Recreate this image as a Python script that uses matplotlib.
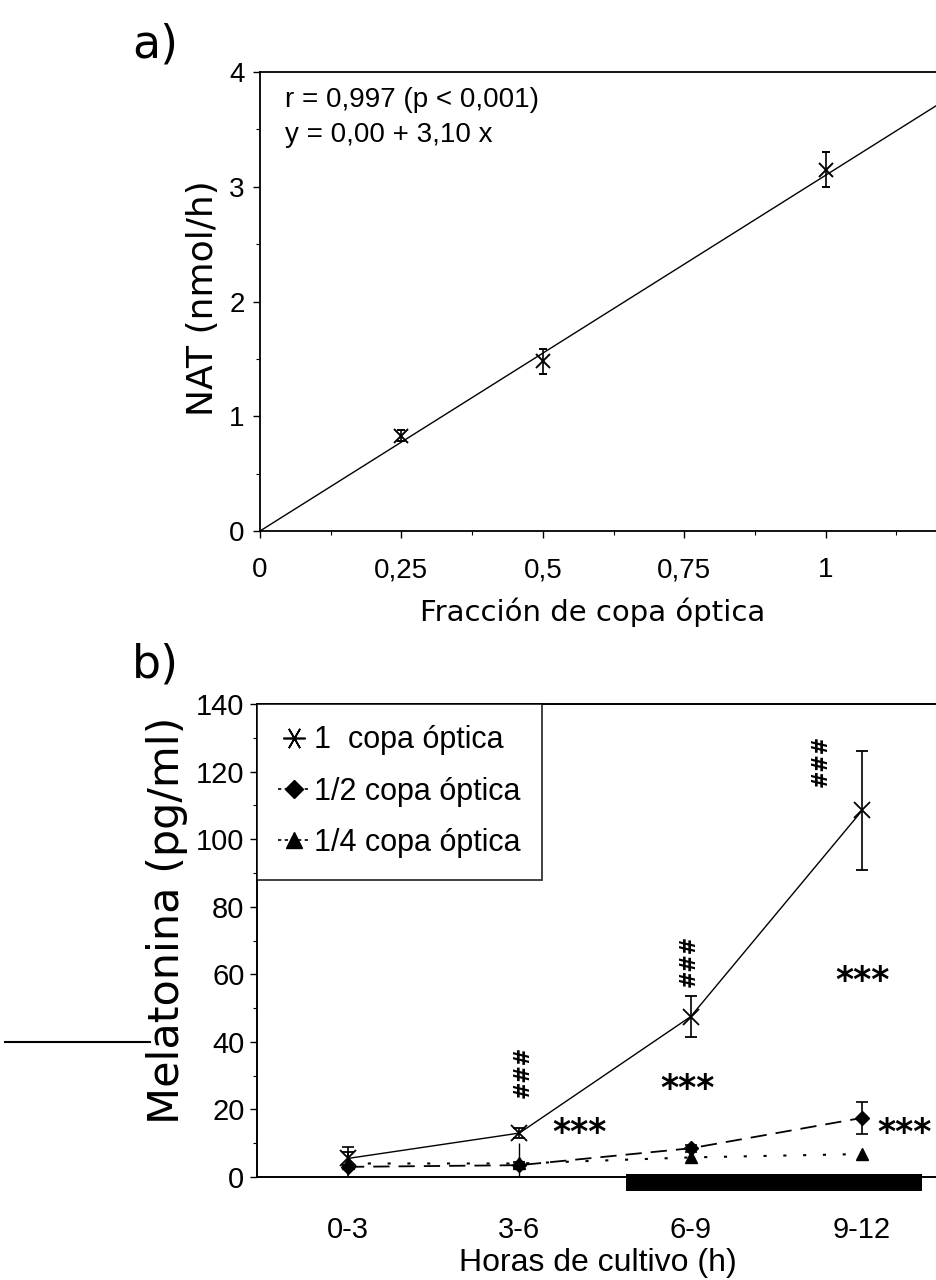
import numpy as np
import matplotlib.pyplot as plt
from matplotlib.lines import Line2D
from matplotlib.ticker import MultipleLocator

# panel a: NAT activity vs optic cup fraction
frac = [0.25, 0.5, 1.0]
nat = [0.83, 1.48, 3.15]
nat_err = [0.05, 0.11, 0.15]
fit_intercept = 0.00
fit_slope = 3.10
fit_x = [0.0, 1.25]

# panel b: melatonin over culture time
periods = ['0-3', '3-6', '6-9', '9-12']
mel_1 = [5.5, 13.0, 47.5, 108.5]
mel_1_err = [2.0, 1.5, 6.0, 17.5]
mel_half = [3.0, 3.5, 8.5, 17.5]
mel_half_err = [6.0, 0.8, 1.0, 4.8]
mel_quarter = [4.0, 4.0, 5.8, 6.8]
mel_quarter_err = [1.0, 6.0, 1.0, 0.8]

# significance marks (x index, y value)
hash_marks = [(1.02, 31), (1.99, 64), (2.76, 123)]
star_marks = [(1.35, 13), (1.98, 26), (3.0, 58)]
star_edge = (3.09, 13)
dark_period = [1.62, 3.35]

regular = ['Liberation Sans', 'DejaVu Sans']
wide = ['DejaVu Sans']
plt.rcParams['font.family'] = regular

fig = plt.figure(figsize=(9.37, 12.8), dpi=100)

# ---------- a) ----------
ax1 = fig.add_axes([260 / 937, 1 - 531 / 1280, 707 / 937, 459 / 1280])
xs = np.array(fit_x)
ax1.plot(xs, fit_intercept + fit_slope * xs, color='black', lw=1.0)
ax1.errorbar(frac, nat, yerr=nat_err, fmt='x', color='black', ms=10, mew=1.4,
             capsize=3, elinewidth=1.2, capthick=1.2)
ax1.set_xlim(0, 1.25)
ax1.set_ylim(0, 4)
ax1.set_xticks([0, 0.25, 0.5, 0.75, 1])
ax1.set_xticklabels(['0', '0,25', '0,5', '0,75', '1'])
ax1.set_yticks([0, 1, 2, 3, 4])
ax1.xaxis.set_minor_locator(MultipleLocator(0.125))
ax1.yaxis.set_minor_locator(MultipleLocator(0.5))
ax1.tick_params(which='both', direction='out', color='black')
ax1.tick_params(which='major', length=5, width=1, labelsize=20)
ax1.tick_params(axis='x', which='major', pad=14)
ax1.tick_params(axis='y', which='major', pad=6)
ax1.tick_params(which='minor', length=3, width=0.8)
for s in ax1.spines.values():
    s.set_linewidth(1.3)
ax1.spines['right'].set_visible(False)
ax1.text(0.045, 3.76, 'r = 0,997 (p < 0,001)', fontsize=20, va='center')
ax1.text(0.045, 3.45, 'y = 0,00 + 3,10 x', fontsize=20, va='center')

fig.text(0.632, 1 - 612 / 1280, 'Fracción de copa óptica', fontsize=21,
         family=wide, ha='center', va='center')
fig.text(0.217, 1 - 298 / 1280, 'NAT (nmol/h)', fontsize=26, family=wide,
         rotation=90, ha='center', va='center')
fig.text(155 / 937, 1 - 45 / 1280, 'a)', fontsize=33, family=wide,
         ha='center', va='center')

# ---------- b) ----------
ax2 = fig.add_axes([257 / 937, 1 - 1177 / 1280, 708 / 937, 473 / 1280])
xi = np.arange(len(periods))
ax2.axvspan(dark_period[0], dark_period[1], ymin=-4 / 140, ymax=1 / 140,
            color='black', clip_on=False, lw=0)
ax2.errorbar(xi, mel_1, yerr=mel_1_err, fmt='x-', color='black', ms=11, mew=1.3,
             lw=1.0, capsize=4, elinewidth=1.2, capthick=1.2)
ax2.errorbar(xi, mel_half, yerr=mel_half_err, fmt='D', ls=(0, (9, 5)), color='black',
             ms=7, lw=1.3, capsize=4, elinewidth=1.2, capthick=1.2)
ax2.errorbar(xi, mel_quarter, yerr=mel_quarter_err, fmt='^', ls=(0, (1.5, 8)),
             color='black', ms=9, lw=1.5, capsize=0, elinewidth=1.0)
ax2.set_xlim(-0.531, 3.6)
ax2.set_ylim(0, 140)
ax2.set_xticks(xi)
ax2.set_xticklabels(periods)
ax2.set_yticks(np.arange(0, 141, 20))
ax2.yaxis.set_minor_locator(MultipleLocator(10))
ax2.tick_params(axis='x', length=0, labelsize=21, pad=28)
ax2.tick_params(axis='y', which='major', length=5, width=1, labelsize=21, pad=4)
ax2.tick_params(axis='y', which='minor', length=3, width=0.8)
for s in ax2.spines.values():
    s.set_linewidth(1.4)
ax2.spines['right'].set_visible(False)

for x, y in hash_marks:
    ax2.text(x, y, '###', rotation=90, fontsize=15, fontweight='bold', family=wide,
             ha='center', va='center')
for x, y in star_marks:
    ax2.text(x, y, '***', fontsize=25, fontweight='bold', family=wide,
             ha='center', va='center')
ax2.text(star_edge[0], star_edge[1], '***', fontsize=25, fontweight='bold',
         family=wide, ha='left', va='center')

handles = [
    Line2D([], [], marker=(6, 2, 90), color='black', ls='none', ms=16, mew=1.2),
    Line2D([], [], marker='D', color='black', ls=(0, (2, 2)), ms=9, lw=1.2),
    Line2D([], [], marker='^', color='black', ls=(0, (2, 2)), ms=11, lw=1.2),
]
leg = ax2.legend(handles, ['1  copa óptica', '1/2 copa óptica', '1/4 copa óptica'],
                 loc='upper left', bbox_to_anchor=(0, 1), fontsize=22,
                 frameon=True, fancybox=False, edgecolor='black', handlelength=1.0,
                 handletextpad=0.15, borderpad=0.7, labelspacing=0.7,
                 borderaxespad=0)
leg.get_frame().set_linewidth(1.3)

fig.text(0.638, 1 - 1263 / 1280, 'Horas de cultivo (h)', fontsize=23,
         ha='center', va='center')
fig.text(167 / 937, 1 - 920 / 1280, 'Melatonina (pg/ml)', fontsize=31, family=wide,
         rotation=90, ha='center', va='center')
fig.text(155 / 937, 1 - 665 / 1280, 'b)', fontsize=33, family=wide,
         ha='center', va='center')

# stray rule at the left margin of panel b
fig.add_artist(Line2D([5 / 937, 150 / 937], [1 - 1042 / 1280, 1 - 1042 / 1280],
                      color='black', lw=1.5))

fig.savefig('out.png', dpi=100)
